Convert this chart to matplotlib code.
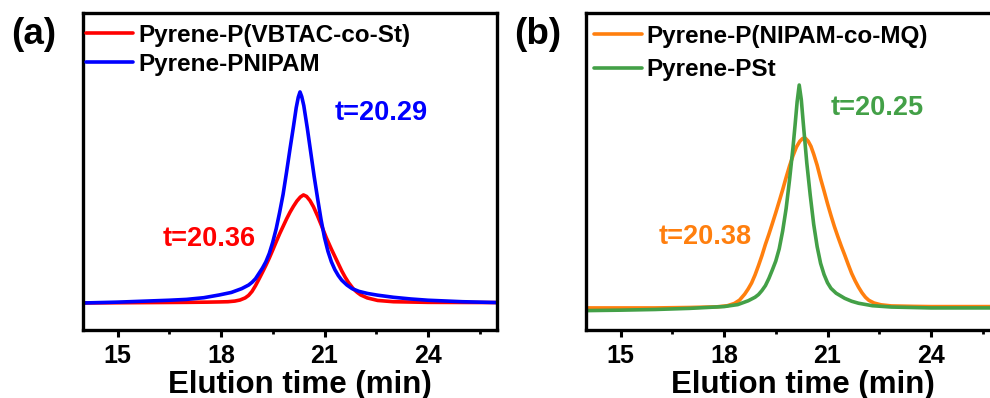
import matplotlib
matplotlib.use("Agg")
import matplotlib.pyplot as plt
from matplotlib.ticker import MultipleLocator

plt.rcParams['font.family'] = ['Liberation Sans', 'DejaVu Sans']
plt.rcParams['font.weight'] = 'bold'

# ---- data: panel (a) ----
t_blue = [14.0, 15.0, 16.0, 16.5, 17.0, 17.5, 17.95, 18.3, 18.6, 18.8, 18.9, 19.0, 19.1, 19.2,
          19.3, 19.4, 19.5, 19.6, 19.7, 19.8, 19.9, 20.0, 20.1, 20.18, 20.24, 20.29, 20.34,
          20.4, 20.5, 20.6, 20.7, 20.8, 20.9, 21.0, 21.1, 21.2, 21.3, 21.4, 21.5, 21.65,
          21.8, 22.0, 22.25, 22.54, 23.0, 23.5, 24.0, 25.0, 26.0]
y_blue = [0.0, 0.004, 0.010, 0.013, 0.017, 0.025, 0.038, 0.050, 0.068, 0.085, 0.098, 0.115,
          0.140, 0.165, 0.195, 0.235, 0.288, 0.352, 0.430, 0.515, 0.620, 0.730, 0.836, 0.925,
          0.975, 1.0, 0.978, 0.935, 0.830, 0.715, 0.600, 0.495, 0.395, 0.310, 0.245, 0.195,
          0.158, 0.130, 0.108, 0.085, 0.068, 0.055, 0.045, 0.037, 0.027, 0.019, 0.013, 0.006,
          0.002]

t_red = [14.0, 16.0, 17.0, 17.6, 17.95, 18.2, 18.4, 18.55, 18.7, 18.8, 18.9, 19.0, 19.1, 19.2,
         19.3, 19.4, 19.5, 19.6, 19.7, 19.8, 19.9, 20.0, 20.1, 20.2, 20.3, 20.39, 20.48, 20.58,
         20.68, 20.8, 20.93, 21.05, 21.2, 21.36, 21.5, 21.6, 21.7, 21.84, 21.95, 22.05, 22.24,
         22.54, 23.0, 24.0, 26.0]
y_red = [0.0, 0.002, 0.003, 0.004, 0.005, 0.006, 0.009, 0.014, 0.024, 0.036, 0.055, 0.082,
         0.113, 0.145, 0.178, 0.213, 0.251, 0.290, 0.328, 0.363, 0.398, 0.430, 0.458, 0.483,
         0.502, 0.512, 0.505, 0.485, 0.456, 0.412, 0.360, 0.310, 0.255, 0.200, 0.152, 0.122,
         0.096, 0.066, 0.050, 0.038, 0.024, 0.012, 0.006, 0.003, 0.002]

# ---- data: panel (b) ----
t_green = [14.0, 15.0, 16.0, 17.0, 18.0, 18.4, 18.7, 18.9, 19.0, 19.1, 19.2, 19.3, 19.4, 19.5,
           19.6, 19.7, 19.8, 19.9, 20.0, 20.06, 20.12, 20.18, 20.24, 20.3, 20.4, 20.5, 20.6,
           20.7, 20.8, 20.9, 21.0, 21.1, 21.25, 21.5, 21.7, 21.9, 22.3, 22.85, 24.0, 26.0]
y_green = [-0.012, -0.010, -0.007, -0.002, 0.006, 0.015, 0.032, 0.048, 0.060, 0.078, 0.100,
           0.132, 0.170, 0.210, 0.265, 0.345, 0.445, 0.575, 0.720, 0.820, 0.925, 1.0, 0.935,
           0.825, 0.650, 0.505, 0.375, 0.275, 0.200, 0.150, 0.113, 0.088, 0.066, 0.043, 0.030,
           0.021, 0.010, 0.004, 0.0, 0.0]

t_orange = [14.0, 16.0, 17.0, 17.8, 18.1, 18.3, 18.45, 18.6, 18.7, 18.8, 18.9, 19.0, 19.1,
            19.2, 19.3, 19.4, 19.5, 19.6, 19.7, 19.8, 19.9, 20.0, 20.1, 20.2, 20.28, 20.36,
            20.44, 20.52, 20.6, 20.7, 20.8, 20.9, 21.0, 21.1, 21.2, 21.3, 21.4, 21.5, 21.6,
            21.7, 21.8, 21.9, 22.0, 22.1, 22.2, 22.35, 22.55, 22.85, 23.5, 24.0, 26.0]
y_orange = [0.0, 0.0, 0.002, 0.005, 0.010, 0.020, 0.035, 0.062, 0.085, 0.112, 0.148, 0.190,
            0.235, 0.285, 0.330, 0.378, 0.427, 0.478, 0.530, 0.585, 0.637, 0.683, 0.722, 0.748,
            0.760, 0.761, 0.748, 0.725, 0.690, 0.640, 0.580, 0.525, 0.468, 0.415, 0.365, 0.320,
            0.277, 0.237, 0.195, 0.155, 0.122, 0.093, 0.068, 0.048, 0.034, 0.022, 0.014, 0.009,
            0.007, 0.006, 0.006]

labels_a = ["Pyrene-P(VBTAC-co-St)", "Pyrene-PNIPAM"]
labels_b = ["Pyrene-P(NIPAM-co-MQ)", "Pyrene-PSt"]
peak_a = ["t=20.36", "t=20.29"]
peak_b = ["t=20.38", "t=20.25"]
xticks = [15, 18, 21, 24]

RED, BLUE = '#FF0000', '#0000FF'
ORANGE, GREEN = '#FF7F0E', '#43A047'

W, H = 990, 398
fig = plt.figure(figsize=(W / 100, H / 100), dpi=100)

def px_axes(l, t, r, b):
    return [l / W, 1 - b / H, (r - l) / W, (b - t) / H]

ax1 = fig.add_axes(px_axes(83, 13, 497, 330))
ax2 = fig.add_axes(px_axes(586, 13, 1000, 330))

lw = 2.6
kw = dict(lw=lw, solid_joinstyle='round', solid_capstyle='round')
ax1.plot(t_red, y_red, color=RED, label=labels_a[0], **kw)
ax1.plot(t_blue, y_blue, color=BLUE, label=labels_a[1], **kw)
ax2.plot(t_orange, y_orange, color=ORANGE, label=labels_b[0], **kw)
ax2.plot(t_green, y_green, color=GREEN, label=labels_b[1], **kw)

ax1.set_ylim(-0.128, 1.374)
ax2.set_ylim(-0.099, 1.323)

for ax, anchor, lsp in ((ax1, (-0.005, 0.982), 0.25), (ax2, (0.008, 0.978), 0.42)):
    ax.set_xlim(14, 26)
    ax.set_xticks(xticks)
    ax.xaxis.set_minor_locator(MultipleLocator(1.5))
    ax.set_yticks([])
    for s in ax.spines.values():
        s.set_linewidth(2.4)
    ax.tick_params(axis='x', which='major', direction='out', length=5, width=2.2,
                   labelsize=18, pad=5)
    ax.tick_params(axis='x', which='minor', direction='out', length=3, width=2.0)
    for lab in ax.get_xticklabels():
        lab.set_fontweight('bold')
    ax.set_xlabel("Elution time (min)", fontsize=22.5, fontweight='bold', va='center')
    ax.xaxis.set_label_coords(0.523, -0.172)
    ax.legend(loc='upper left', bbox_to_anchor=anchor, frameon=False,
              prop={'size': 17.5, 'weight': 'bold'}, handlelength=1.95,
              handletextpad=0.2, labelspacing=lsp, borderaxespad=0.0,
              borderpad=0.2)

ax1.text(17.65, 0.302, peak_a[0], color=RED, fontsize=19.5, fontweight='bold',
         ha='center', va='center')
ax1.text(22.63, 0.900, peak_a[1], color=BLUE, fontsize=19.5, fontweight='bold',
         ha='center', va='center')
ax2.text(17.45, 0.316, peak_b[0], color=ORANGE, fontsize=19.5, fontweight='bold',
         ha='center', va='center')
ax2.text(22.44, 0.897, peak_b[1], color=GREEN, fontsize=19.5, fontweight='bold',
         ha='center', va='center')

fig.text(34 / W, 1 - 35 / H, "(a)", fontsize=26.5, fontweight='bold', ha='center', va='center')
fig.text(538 / W, 1 - 35 / H, "(b)", fontsize=26.5, fontweight='bold', ha='center', va='center')

fig.savefig("out.png", dpi=100)
